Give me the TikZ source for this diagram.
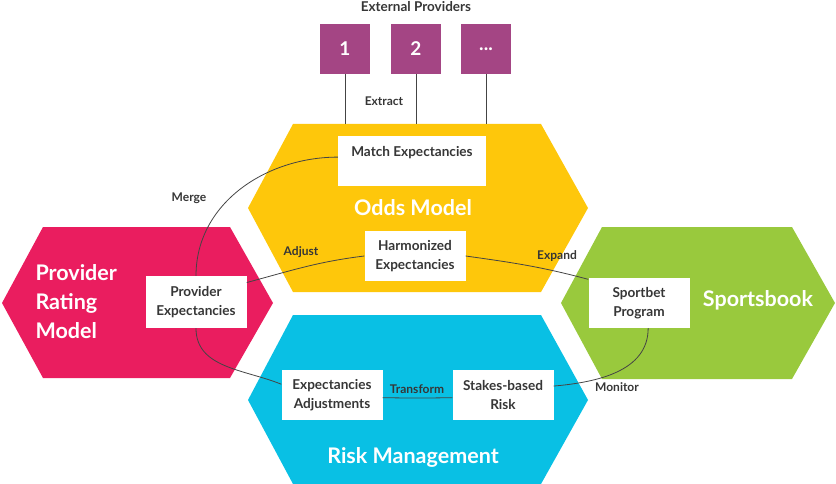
\documentclass[tikz,border=0pt]{standalone}
\usepackage{fontspec}
\setmainfont{Lato}
\usetikzlibrary{calc}
\definecolor{oddsyellow}{HTML}{FEC70B}
\definecolor{ratingpink}{HTML}{EA1D5F}
\definecolor{sportsgreen}{HTML}{99C93D}
\definecolor{riskblue}{HTML}{09C0E4}
\definecolor{providerpurple}{HTML}{A44584}
\definecolor{textgray}{HTML}{363636}
\definecolor{linegray}{HTML}{444444}

\begin{document}
\begin{tikzpicture}[x=1pt, y=1pt, every node/.style={font=\bfseries\fontsize{13.6}{19.5}\selectfont, text=textgray},
  box/.style={fill=white, align=center, minimum width=101pt, minimum height=50pt, inner sep=2pt},
  source/.style={fill=providerpurple, minimum width=50pt, minimum height=50pt, inner sep=0pt, text=white, font=\bfseries\fontsize{19}{22}\selectfont},
  title/.style={text=white, font=\bfseries\fontsize{21.5}{29}\selectfont},
  flowlabel/.style={font=\bfseries\fontsize{12}{14}\selectfont},
  link/.style={draw=linegray, line width=0.8pt}]
  \useasboundingbox (0,0) rectangle (836,-484);
  \fill[oddsyellow] (248,-208) -- (293,-124) -- (541,-124) -- (588,-208) -- (541,-292) -- (293,-292) -- cycle;
  \fill[riskblue] (248,-400) -- (293,-315) -- (541,-315) -- (588,-400) -- (541,-484) -- (293,-484) -- cycle;
  \fill[ratingpink] (2,-303) -- (43,-227) -- (230,-227) -- (273,-303) -- (230,-378) -- (43,-378) -- cycle;
  \fill[sportsgreen] (561,-303) -- (602,-227) -- (792,-227) -- (835,-303) -- (792,-379) -- (602,-379) -- cycle;
  \coordinate (oddsTop) at (0,-124);

  \node[font=\bfseries\fontsize{13.5}{16}\selectfont] (extTitle) at (416,-7) {External Providers};
  \node[source] (p1) at (345,-49) {1};
  \node[source] (p2) at (416,-49) {2};
  \node[source] (p3) at (486,-49) {...};
  \node[flowlabel] (extract) at (384,-101) {Extract};

  \node[title] (oddsTitle) at (413,-208) {Odds Model};
  \node[title, align=left, anchor=west] (ratingTitle) at (32,-302) {Provider\\Rating\\Model};
  \node[title] (sportsTitle) at (758,-300) {Sportsbook};
  \node[title] (riskTitle) at (413,-457) {Risk Management};

  \node[box, minimum width=148pt] (match) at (412,-161) {Match Expectancies\\\mbox{}};
  \node[box] (harm) at (415,-256) {Harmonized\\Expectancies};
  \node[box, minimum height=52pt] (provExp) at (196,-302) {Provider\\Expectancies};
  \node[box] (sportbet) at (639,-303) {Sportbet\\Program};
  \node[box] (expAdj) at (332,-395) {Expectancies\\Adjustments};
  \node[box] (stakes) at (503,-395) {Stakes-based\\Risk};

  \node[flowlabel] (merge) at (189,-198) {Merge};
  \node[flowlabel] (adjust) at (301,-252) {Adjust};
  \node[flowlabel] (expand) at (557,-256) {Expand};
  \node[flowlabel] (transform) at (417,-389) {Transform};
  \node[flowlabel] (monitor) at (617,-387) {Monitor};

  \draw[link] (p1.south) -- (p1.south |- oddsTop);
  \draw[link] (p2.south) -- (p2.south |- oddsTop);
  \draw[link] (p3.south) -- (p3.south |- oddsTop);
  \draw[link] (match.177) to[out=180, in=90] (provExp.north);
  \draw[link] (provExp.21) to[out=15, in=187] (harm.west);
  \draw[link] (harm.east) to[out=-8, in=165] (sportbet.155);
  \draw[link] (provExp.south) to[out=-90, in=158] (expAdj.168);
  \draw[link] (expAdj.-3) to[bend right=1] (stakes.183);
  \draw[link] (stakes.10) to[out=5, in=-90] (sportbet.-70);
\end{tikzpicture}
\end{document}
